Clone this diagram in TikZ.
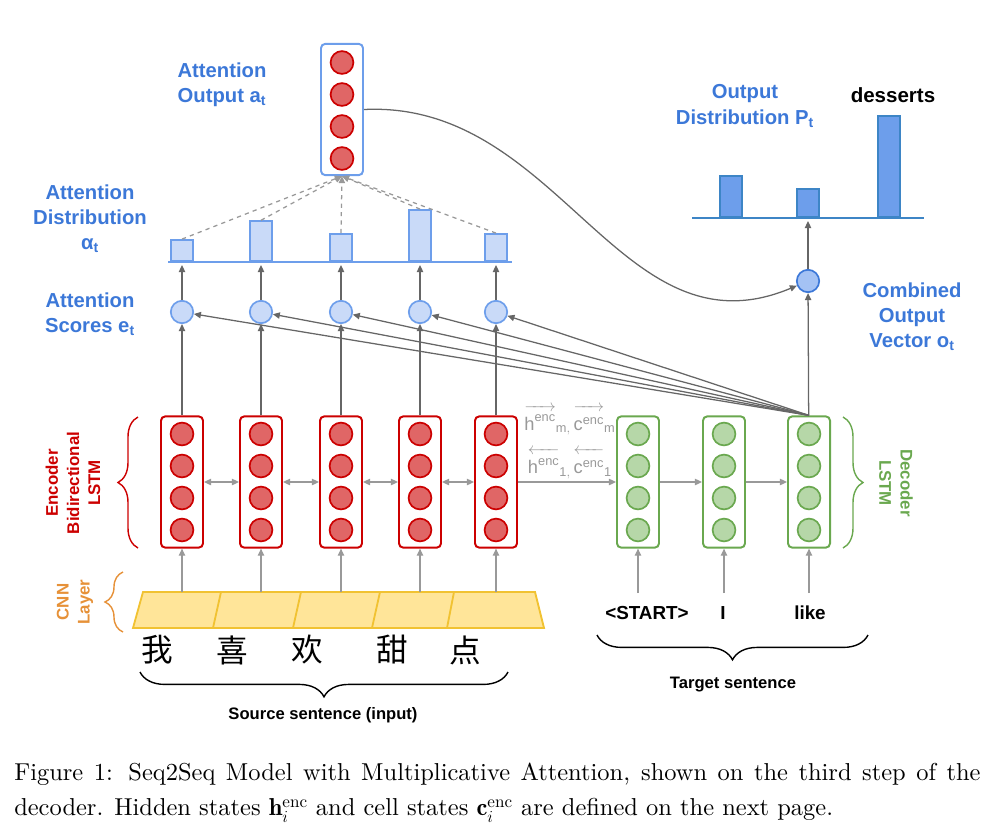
\documentclass[tikz,border=0pt]{standalone}
\usepackage{fontspec}
\usepackage{amsmath}
\usetikzlibrary{arrows.meta, positioning, calc, decorations.pathreplacing}
\newfontfamily\lab{Liberation Sans}
\newfontfamily\cjk{Noto Sans CJK SC}
\newfontfamily\capfont{lmroman10-regular.otf}
\definecolor{encred}{HTML}{CC0000}
\definecolor{encfill}{HTML}{E06666}
\definecolor{decgreen}{HTML}{6AA84F}
\definecolor{decfill}{HTML}{B6D7A8}
\definecolor{lblue}{HTML}{3C78D8}
\definecolor{pblue}{HTML}{6D9EEB}
\definecolor{pfill}{HTML}{C9DAF8}
\definecolor{dblue}{HTML}{3D85C6}
\definecolor{cfill}{HTML}{A4C2F4}
\definecolor{cnnfill}{HTML}{FFE599}
\definecolor{cnnline}{HTML}{F1C232}
\definecolor{orng}{HTML}{E69138}
\definecolor{lgray}{HTML}{999999}
\definecolor{dgray}{HTML}{666666}
\newcommand\fwd[1]{\overrightarrow{\rule{0pt}{1.05em}\text{#1}^{\text{enc}}}}
\newcommand\bwd[1]{\overleftarrow{\rule{0pt}{1.05em}\text{#1}^{\text{enc}}}}

\begin{document}
\begin{tikzpicture}[x=0.025cm, y=-0.025cm, >={Triangle[length=5pt,width=4.5pt]},
  cell/.style = {rounded corners=3pt, line width=1.4pt, minimum width=1.05cm, minimum height=3.28cm, inner sep=0pt},
  unit/.style = {circle, line width=1.2pt, minimum size=0.57cm, inner sep=0pt},
  bar/.style = {anchor=south, minimum width=0.55cm, inner sep=0pt, line width=1.2pt},
  lbl/.style = {font=\lab\bfseries\fontsize{14.4}{17.8}\selectfont, text=lblue, align=center},
  side/.style = {font=\lab\bfseries\fontsize{12}{15}\selectfont, align=center},
  word/.style = {font=\lab\bfseries\fontsize{13.4}{16}\selectfont},
  note/.style = {font=\lab\bfseries\fontsize{11.8}{14}\selectfont},
  hlab/.style = {font=\lab\fontsize{13}{14}\selectfont, text=lgray, inner sep=0pt},
  cjkw/.style = {font=\cjk\fontsize{22.5}{24}\selectfont},
  lightarr/.style = {lgray, line width=0.9pt},
  darkarr/.style = {dgray, line width=0.9pt},
  brc/.style = {decorate, decoration={brace, amplitude=#1}, line width=1pt}]
\useasboundingbox (0,0) rectangle (993,829);

\foreach \i/\x in {1/182,2/261,3/341,4/420,5/496}{
  \node[cell, draw=encred] (e\i) at (\x,482) {};
  \foreach \k/\dy in {1/-48,2/-16,3/16,4/48}
    \node[unit, draw=encred, fill=encfill] (e\i-\k) at (\x,482+\dy) {};
  \node[unit, draw=pblue, fill=pfill, minimum size=0.56cm] (s\i) at (\x,312) {};
  \coordinate (k\i) at (\x,592);
  \draw[darkarr,->] (e\i) -- (s\i);
  \draw[darkarr,->] (s\i) -- (\x,265);
}
\foreach \i/\x in {1/638,2/724,3/809}{
  \node[cell, draw=decgreen] (d\i) at (\x,482) {};
  \foreach \k/\dy in {1/-48,2/-16,3/16,4/48}
    \node[unit, draw=decgreen, fill=decfill] (d\i-\k) at (\x,482+\dy) {};
  \coordinate (i\i) at (\x,593);
  \draw[lightarr,->] (i\i) -- (d\i);
}

\node[cell, draw=pblue] (att) at (342,109.5) {};
\foreach \k/\dy in {1/-47,2/-15,3/17,4/49}
  \node[unit, draw=encred, fill=encfill] (att-\k) at (342,109.5+\dy) {};

\node[bar, draw=pblue, fill=pfill, minimum height=0.53cm] (a1) at (182,262) {};
\node[bar, draw=pblue, fill=pfill, minimum height=1.0cm] (a2) at (261,262) {};
\node[bar, draw=pblue, fill=pfill, minimum height=0.68cm] (a3) at (341,262) {};
\node[bar, draw=pblue, fill=pfill, minimum height=1.28cm] (a4) at (420,262) {};
\node[bar, draw=pblue, fill=pfill, minimum height=0.68cm] (a5) at (496,262) {};
\draw[pblue, line width=1.4pt] (168,262) -- (512,262);
\foreach \i in {1,...,5}
  \draw[lightarr, dashed, ->] (a\i.north) -- (att.south);

\node[bar, draw=dblue, fill=pblue, minimum height=1.03cm] (p1) at (731,218) {};
\node[bar, draw=dblue, fill=pblue, minimum height=0.7cm] (p2) at (808,218) {};
\node[bar, draw=dblue, fill=pblue, minimum height=2.53cm] (p3) at (889,218) {};
\draw[dblue, line width=1.4pt] (692,218) -- (924,218);
\node[unit, draw=lblue, fill=cfill, minimum size=0.56cm] (comb) at (808,281) {};

\draw[lightarr,<->] (e1) -- (e2);
\draw[lightarr,<->] (e2) -- (e3);
\draw[lightarr,<->] (e3) -- (e4);
\draw[lightarr,<->] (e4) -- (e5);
\draw[lightarr,->] (e5) -- (d1);
\draw[lightarr,->] (d1) -- (d2);
\draw[lightarr,->] (d2) -- (d3);
\foreach \i in {1,...,5}
  \draw[darkarr,->] (d3.north) -- (s\i);
\draw[darkarr,->] (d3) -- (comb);
\draw[darkarr,->] (comb) -- (808,221);
\draw[darkarr,->] (att.east) .. controls (560,100) and (620,360) .. (comb);

\draw[cnnline, fill=cnnfill, line width=1.3pt] (133,628) -- (143,592) -- (535,592) -- (544,628) -- cycle;
\draw[cnnline, line width=1.3pt] (221,592) -- (213,628) (301,592) -- (293,628) (380,592) -- (372,628) (454,592) -- (447,628);
\foreach \i in {1,...,5}
  \draw[lightarr,->] (k\i) -- (e\i);

\node[cjkw] (c1) at (157,650) {我};
\node[cjkw] (c2) at (232,650) {喜};
\node[cjkw] (c3) at (307,650) {欢};
\node[cjkw] (c4) at (392,650) {甜};
\node[cjkw] (c5) at (465,650) {点};
\draw[brc=0.62cm] (508,672) -- (140,672);
\node[note] (srcl) at (323,715) {Source sentence (input)};

\node[word] (t1) at (647,613) {<START>};
\node[word] (t2) at (723,613) {I};
\node[word] (t3) at (810,613) {like};
\draw[brc=0.62cm] (868,635) -- (597,635);
\node[note] (tgtl) at (733,685) {Target sentence};

\draw[brc=0.5cm, encred] (138,548) -- (138,417);
\draw[brc=0.5cm, decgreen] (843,417) -- (843,548);
\draw[brc=0.45cm, orng] (123,632) -- (123,572);
\node[side, text=encred, rotate=90] (encl) at (73,483) {Encoder\\Bidirectional\\LSTM};
\node[side, text=decgreen, rotate=-90] (decl) at (896,483) {Decoder\\LSTM};
\node[side, text=orng, rotate=90] (cnnl) at (75,602) {CNN\\Layer};

\node[hlab] (hm) at (570,420) {$\fwd{h}{}_{\text{m},}\,\fwd{c}{}_{\text{m}}$};
\node[hlab] (h1) at (570,464) {$\bwd{h}{}_{\text{1},}\,\bwd{c}{}_{\text{1}}$};

\node[lbl] (attl) at (222,85) {Attention\\Output a\textsubscript{t}};
\node[lbl] (distl) at (90,219) {Attention\\Distribution\\α\textsubscript{t}};
\node[lbl] (scl) at (90,314) {Attention\\Scores e\textsubscript{t}};
\node[lbl] (outl) at (745,106) {Output\\Distribution P\textsubscript{t}};
\node[lbl] (combl) at (912,317) {Combined\\Output\\Vector o\textsubscript{t}};
\node[font=\lab\bfseries\fontsize{14.6}{17}\selectfont] (dess) at (893,95) {desserts};

\node[anchor=north west, inner sep=0pt, text width=24.15cm, align=justify, font=\capfont\fontsize{17.4}{24.9}\selectfont] (cap) at (14,763) {Figure 1: Seq2Seq Model with Multiplicative Attention, shown on the third step of the decoder. Hidden states $\mathbf{h}_i^{\text{enc}}$ and cell states $\mathbf{c}_i^{\text{enc}}$ are defined on the next page.};
\end{tikzpicture}
\end{document}
